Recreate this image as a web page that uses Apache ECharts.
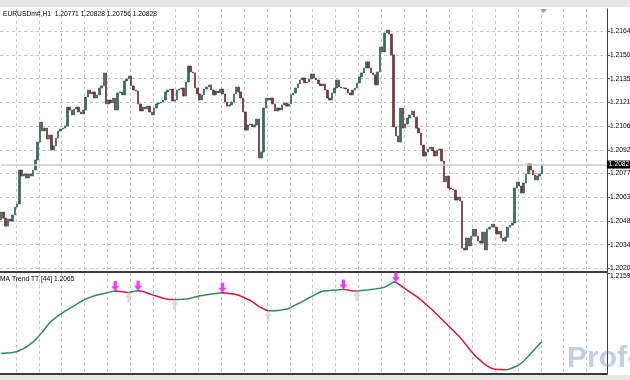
<!DOCTYPE html>
<html><head><meta charset="utf-8">
<script src="https://cdn.jsdelivr.net/npm/echarts@6/dist/echarts.min.js"></script>
<style>html,body{margin:0;padding:0;background:#fff;overflow:hidden}#c{width:630px;height:380px}</style>
</head><body><div id="c"></div><script>
// ---- data ----
const headerText = 'EURUSDm#,H1  1.20771 1.20828 1.20756 1.20828';
const indicatorTitle = 'MA Trend TT [44] 1.2065';
const lastPrice = 1.20828;
const lastPriceLabel = '1.2082';
const priceTickValues = [1.20196,1.20340,1.20485,1.20629,1.20774,1.20918,1.21062,1.21207,1.21351,1.21496,1.21640];
const priceTickLabels = ['1.2020','1.2034','1.2048','1.2063','1.2077','1.2092','1.2106','1.2121','1.2135','1.2150','1.2164'];
const priceMin = 1.20174, priceMax = 1.21775;
const subMin = 1.20242, subMax = 1.2159;
const subTickLabel = '1.2159';
const totalSlots = 266;

const opens = [
1.20490,1.20539,1.20502,1.20453,1.20496,1.20484,1.20521,1.20569,1.20588,1.20795,
1.20758,1.20771,1.20746,1.20771,1.20758,1.20795,1.20856,1.20965,1.21087,1.21032,
1.21050,1.20983,1.21008,1.20917,1.20941,1.20989,1.21032,1.21044,1.21050,1.21063,
1.21178,1.21160,1.21130,1.21166,1.21178,1.21148,1.21136,1.21160,1.21239,1.21282,
1.21258,1.21270,1.21233,1.21252,1.21294,1.21307,1.21386,1.21197,1.21221,1.21203,
1.21233,1.21160,1.21264,1.21270,1.21252,1.21337,1.21349,1.21367,1.21307,1.21282,
1.21276,1.21197,1.21154,1.21178,1.21166,1.21184,1.21148,1.21130,1.21172,1.21197,
1.21203,1.21209,1.21221,1.21270,1.21282,1.21288,1.21215,1.21221,1.21282,1.21288,
1.21294,1.21245,1.21331,1.21428,1.21392,1.21386,1.21294,1.21258,1.21221,1.21252,
1.21288,1.21300,1.21313,1.21282,1.21252,1.21276,1.21264,1.21288,1.21258,1.21209,
1.21184,1.21191,1.21209,1.21258,1.21300,1.21270,1.21233,1.21148,1.21038,1.21069,
1.21075,1.21057,1.21069,1.21105,1.20868,1.20904,1.21172,1.21233,1.21221,1.21233,
1.21197,1.21154,1.21172,1.21160,1.21191,1.21203,1.21184,1.21197,1.21252,1.21264,
1.21294,1.21319,1.21343,1.21355,1.21325,1.21331,1.21349,1.21380,1.21355,1.21343,
1.21319,1.21307,1.21319,1.21282,1.21233,1.21221,1.21264,1.21294,1.21343,1.21300,
1.21294,1.21294,1.21288,1.21264,1.21252,1.21282,1.21294,1.21325,1.21361,1.21386,
1.21416,1.21453,1.21416,1.21386,1.21374,1.21313,1.21392,1.21544,1.21514,1.21629,
1.21647,1.21623,1.21496,1.21057,1.21002,1.20965,1.21172,1.21050,1.21075,1.21111,
1.21130,1.21154,1.21117,1.21050,1.21020,1.20947,1.20880,1.20904,1.20922,1.20934,
1.20911,1.20880,1.20917,1.20922,1.20850,1.20722,1.20758,1.20685,1.20679,1.20673,
1.20612,1.20630,1.20606,1.20319,1.20308,1.20381,1.20332,1.20392,1.20435,1.20392,
1.20362,1.20350,1.20417,1.20308,1.20435,1.20447,1.20466,1.20447,1.20405,1.20423,
1.20381,1.20362,1.20386,1.20447,1.20459,1.20472,1.20685,1.20722,1.20697,1.20655,
1.20716,1.20771,1.20832,1.20795,1.20765,1.20734,1.20758,1.20771];
const closes = [
1.20539,1.20502,1.20453,1.20496,1.20484,1.20521,1.20569,1.20588,1.20795,1.20758,
1.20771,1.20746,1.20771,1.20758,1.20795,1.20856,1.20965,1.21087,1.21032,1.21050,
1.20983,1.21008,1.20917,1.20941,1.20989,1.21032,1.21044,1.21050,1.21063,1.21178,
1.21160,1.21130,1.21166,1.21178,1.21148,1.21136,1.21160,1.21239,1.21282,1.21258,
1.21270,1.21233,1.21252,1.21294,1.21307,1.21386,1.21197,1.21221,1.21203,1.21233,
1.21160,1.21264,1.21270,1.21252,1.21337,1.21349,1.21367,1.21307,1.21282,1.21276,
1.21197,1.21154,1.21178,1.21166,1.21184,1.21148,1.21130,1.21172,1.21197,1.21203,
1.21209,1.21221,1.21270,1.21282,1.21288,1.21215,1.21221,1.21282,1.21288,1.21294,
1.21245,1.21331,1.21428,1.21392,1.21386,1.21294,1.21258,1.21221,1.21252,1.21288,
1.21300,1.21313,1.21282,1.21252,1.21276,1.21264,1.21288,1.21258,1.21209,1.21184,
1.21191,1.21209,1.21258,1.21300,1.21270,1.21233,1.21148,1.21038,1.21069,1.21075,
1.21057,1.21069,1.21105,1.20868,1.20904,1.21172,1.21233,1.21221,1.21233,1.21197,
1.21154,1.21172,1.21160,1.21191,1.21203,1.21184,1.21197,1.21252,1.21264,1.21294,
1.21319,1.21343,1.21355,1.21325,1.21331,1.21349,1.21380,1.21355,1.21343,1.21319,
1.21307,1.21319,1.21282,1.21233,1.21221,1.21264,1.21294,1.21343,1.21300,1.21294,
1.21294,1.21288,1.21264,1.21252,1.21282,1.21294,1.21325,1.21361,1.21386,1.21416,
1.21453,1.21416,1.21386,1.21374,1.21313,1.21392,1.21544,1.21514,1.21629,1.21647,
1.21623,1.21496,1.21057,1.21002,1.20965,1.21172,1.21050,1.21075,1.21111,1.21130,
1.21154,1.21117,1.21050,1.21020,1.20947,1.20880,1.20904,1.20922,1.20934,1.20911,
1.20880,1.20917,1.20922,1.20850,1.20722,1.20758,1.20685,1.20679,1.20673,1.20612,
1.20630,1.20606,1.20319,1.20308,1.20381,1.20332,1.20392,1.20435,1.20392,1.20362,
1.20350,1.20417,1.20308,1.20435,1.20447,1.20466,1.20447,1.20405,1.20423,1.20381,
1.20362,1.20386,1.20447,1.20459,1.20472,1.20685,1.20722,1.20697,1.20655,1.20716,
1.20771,1.20832,1.20795,1.20765,1.20734,1.20758,1.20771,1.20828];
const lows = [
1.20478,1.20490,1.20435,1.20441,1.20466,1.20472,1.20508,1.20557,1.20576,1.20746,
1.20740,1.20740,1.20740,1.20746,1.20752,1.20655,1.20838,1.20953,1.21020,1.20977,
1.20971,1.20971,1.20887,1.20893,1.20874,1.20971,1.21020,1.21026,1.21032,1.21050,
1.21148,1.21117,1.21123,1.21154,1.21136,1.21075,1.21130,1.21148,1.21227,1.21245,
1.21239,1.21221,1.21221,1.21239,1.21282,1.21294,1.21130,1.21160,1.21191,1.21160,
1.21117,1.21148,1.21233,1.21233,1.21239,1.21300,1.21294,1.21294,1.21270,1.21233,
1.21184,1.21142,1.21148,1.21142,1.21148,1.21136,1.21117,1.21123,1.21160,1.21172,
1.21184,1.21197,1.21203,1.21252,1.21245,1.21203,1.21160,1.21209,1.21233,1.21221,
1.21215,1.21233,1.21319,1.21380,1.21343,1.21282,1.21203,1.21197,1.21209,1.21239,
1.21270,1.21282,1.21270,1.21239,1.21239,1.21252,1.21252,1.21245,1.21197,1.21172,
1.21172,1.21178,1.21197,1.21245,1.21252,1.21221,1.21136,1.21008,1.21026,1.20996,
1.21038,1.20959,1.21050,1.20807,1.20819,1.20893,1.21160,1.21203,1.21209,1.21184,
1.21117,1.21142,1.21148,1.21148,1.21178,1.21172,1.21178,1.21184,1.21239,1.21252,
1.21282,1.21307,1.21325,1.21313,1.21313,1.21319,1.21337,1.21331,1.21313,1.21307,
1.21294,1.21239,1.21270,1.21197,1.21203,1.21209,1.21252,1.21282,1.21288,1.21282,
1.21282,1.21276,1.21252,1.21239,1.21239,1.21239,1.21282,1.21313,1.21349,1.21374,
1.21404,1.21404,1.21374,1.21361,1.21300,1.21203,1.21380,1.21447,1.21502,1.21617,
1.21610,1.21483,1.21044,1.20977,1.20947,1.20953,1.21038,1.21032,1.21069,1.21099,
1.21117,1.21105,1.21038,1.21008,1.20934,1.20868,1.20856,1.20826,1.20904,1.20898,
1.20868,1.20868,1.20904,1.20838,1.20710,1.20710,1.20582,1.20655,1.20661,1.20600,
1.20582,1.20563,1.20302,1.20290,1.20265,1.20229,1.20313,1.20381,1.20381,1.20350,
1.20338,1.20338,1.20296,1.20296,1.20417,1.20429,1.20435,1.20392,1.20368,1.20368,
1.20350,1.20350,1.20374,1.20435,1.20350,1.20459,1.20673,1.20685,1.20612,1.20642,
1.20704,1.20758,1.20783,1.20752,1.20612,1.20704,1.20740,1.20756];
const highs = [
1.20557,1.20551,1.20515,1.20508,1.20521,1.20533,1.20582,1.20612,1.20807,1.20807,
1.20789,1.20783,1.20789,1.20807,1.20868,1.20868,1.20977,1.21160,1.21099,1.21063,
1.21063,1.21050,1.21020,1.20989,1.21002,1.21044,1.21063,1.21063,1.21081,1.21191,
1.21191,1.21172,1.21178,1.21215,1.21191,1.21160,1.21172,1.21252,1.21294,1.21294,
1.21288,1.21282,1.21270,1.21307,1.21331,1.21428,1.21392,1.21245,1.21239,1.21386,
1.21245,1.21276,1.21294,1.21386,1.21349,1.21367,1.21380,1.21380,1.21319,1.21307,
1.21288,1.21209,1.21191,1.21203,1.21197,1.21197,1.21172,1.21184,1.21209,1.21221,
1.21227,1.21233,1.21282,1.21294,1.21300,1.21300,1.21239,1.21355,1.21307,1.21307,
1.21307,1.21343,1.21496,1.21440,1.21416,1.21398,1.21307,1.21294,1.21264,1.21307,
1.21325,1.21361,1.21325,1.21294,1.21294,1.21294,1.21300,1.21300,1.21270,1.21221,
1.21209,1.21221,1.21270,1.21313,1.21313,1.21282,1.21245,1.21160,1.21117,1.21111,
1.21099,1.21087,1.21123,1.21123,1.20917,1.21184,1.21270,1.21245,1.21245,1.21245,
1.21209,1.21184,1.21184,1.21203,1.21215,1.21221,1.21215,1.21264,1.21282,1.21374,
1.21343,1.21361,1.21374,1.21367,1.21349,1.21367,1.21447,1.21392,1.21367,1.21355,
1.21331,1.21331,1.21331,1.21294,1.21245,1.21276,1.21307,1.21355,1.21355,1.21313,
1.21313,1.21307,1.21300,1.21276,1.21294,1.21307,1.21337,1.21374,1.21404,1.21428,
1.21465,1.21465,1.21428,1.21416,1.21386,1.21404,1.21556,1.21556,1.21641,1.21684,
1.21671,1.21635,1.21508,1.21081,1.21038,1.21221,1.21184,1.21099,1.21123,1.21142,
1.21166,1.21166,1.21130,1.21063,1.21032,1.20959,1.20917,1.20934,1.20947,1.20947,
1.20922,1.20928,1.20934,1.20934,1.20862,1.20813,1.20771,1.20697,1.20691,1.20685,
1.20642,1.20642,1.20618,1.20392,1.20398,1.20466,1.20405,1.20490,1.20447,1.20405,
1.20374,1.20429,1.20429,1.20447,1.20459,1.20478,1.20508,1.20459,1.20453,1.20441,
1.20435,1.20398,1.20459,1.20472,1.20484,1.20697,1.20734,1.20734,1.20710,1.20728,
1.20783,1.20887,1.20844,1.20807,1.20807,1.20783,1.20820,1.20828];
const maValues = [
1.20510,1.20512,1.20514,1.20517,1.20520,1.20524,1.20529,1.20538,1.20550,1.20565,
1.20580,1.20600,1.20620,1.20642,1.20664,1.20693,1.20725,1.20760,1.20795,1.20835,
1.20875,1.20912,1.20945,1.20970,1.20995,1.21018,1.21040,1.21060,1.21080,1.21096,
1.21115,1.21133,1.21150,1.21168,1.21188,1.21208,1.21226,1.21240,1.21252,1.21263,
1.21274,1.21284,1.21294,1.21302,1.21309,1.21316,1.21323,1.21330,1.21337,1.21343,
1.21347,1.21346,1.21343,1.21339,1.21335,1.21331,1.21330,1.21335,1.21341,1.21347,
1.21351,1.21350,1.21343,1.21333,1.21322,1.21311,1.21300,1.21290,1.21281,1.21272,
1.21262,1.21252,1.21244,1.21239,1.21236,1.21235,1.21235,1.21235,1.21236,1.21237,
1.21239,1.21241,1.21245,1.21252,1.21260,1.21268,1.21276,1.21284,1.21288,1.21293,
1.21298,1.21303,1.21308,1.21311,1.21315,1.21318,1.21321,1.21324,1.21322,1.21319,
1.21315,1.21311,1.21307,1.21302,1.21292,1.21280,1.21268,1.21253,1.21238,1.21225,
1.21205,1.21184,1.21162,1.21140,1.21124,1.21108,1.21094,1.21083,1.21082,1.21083,
1.21085,1.21088,1.21091,1.21095,1.21100,1.21106,1.21113,1.21128,1.21146,1.21163,
1.21178,1.21190,1.21207,1.21224,1.21241,1.21258,1.21273,1.21290,1.21306,1.21321,
1.21335,1.21347,1.21350,1.21352,1.21354,1.21357,1.21359,1.21361,1.21364,1.21367,
1.21370,1.21367,1.21362,1.21356,1.21351,1.21347,1.21348,1.21351,1.21355,1.21358,
1.21361,1.21364,1.21368,1.21373,1.21377,1.21382,1.21386,1.21391,1.21400,1.21415,
1.21432,1.21451,1.21470,1.21465,1.21445,1.21424,1.21402,1.21380,1.21358,1.21338,
1.21318,1.21297,1.21276,1.21253,1.21228,1.21202,1.21175,1.21148,1.21120,1.21094,
1.21064,1.21034,1.21003,1.20972,1.20942,1.20912,1.20882,1.20852,1.20822,1.20792,
1.20762,1.20731,1.20693,1.20655,1.20617,1.20578,1.20540,1.20505,1.20474,1.20445,
1.20418,1.20390,1.20363,1.20344,1.20326,1.20311,1.20303,1.20299,1.20296,1.20294,
1.20292,1.20293,1.20297,1.20305,1.20316,1.20329,1.20342,1.20360,1.20383,1.20410,
1.20440,1.20475,1.20507,1.20540,1.20573,1.20607,1.20640,1.20668];
const trendTurnBars = [50,56,60,76,97,117,150,156,173,221];
const sellArrowBars = [50,60,97,150,173];
const buyArrowBars = [56,76,117,156];

// ---- styles ----
const FONT = 'Liberation Sans';
const FS = 6.7;
const upCol = '#2e8b57', dnCol = '#dc143c';
const gridDash = {color:'#c4c4c4', type:[3,3], width:1};
const frameCol = '#3c3c3c';

const cats = Array.from({length: totalSlots}, (_, i) => String(i));
const wickData = lows.map((l, i) => [l, highs[i], l, highs[i]]);
const bodyData = opens.map((o, i) => [o, closes[i], Math.min(o, closes[i]), Math.max(o, closes[i])]);
const pieces = [];
let lo = null;
trendTurnBars.concat([totalSlots]).forEach((t, k) => {
  const p = {lte: t, color: k % 2 === 0 ? upCol : dnCol};
  if (lo !== null) p.gt = lo;
  pieces.push(p); lo = t;
});
const vSplit = (idx) => idx % 10 === 7;
const arrowPath = 'path://M3,0L7,0L7,5L10,5L5,10L0,5L3,5Z';

const chart = echarts.init(document.getElementById('c'), null, {renderer:'canvas'});
chart.setOption({
  animation: false,
  backgroundColor: '#ffffff',
  title: [
    {text: headerText, left: 3, top: 11, padding: 0, textStyle:{fontFamily:FONT, fontSize:FS, fontWeight:'normal', color:'#000'}},
    {text: indicatorTitle, left: 0, top: 276, padding: 0, textStyle:{fontFamily:FONT, fontSize:FS, fontWeight:'normal', color:'#000'}}
  ],
  grid: [
    {left: 0, right: 23, top: 9, bottom: 108, containLabel:false, outerBoundsMode:'none'},
    {left: 0, right: 23, top: 273, bottom: 6.5, containLabel:false, outerBoundsMode:'none'}
  ],
  xAxis: [
    {type:'category', gridIndex:0, data:cats, boundaryGap:true,
     axisLine:{show:true, lineStyle:{color:frameCol, width:2}}, axisTick:{show:false}, axisLabel:{show:false},
     splitLine:{show:true, interval:vSplit, lineStyle:gridDash}},
    {type:'category', gridIndex:1, data:cats, boundaryGap:true,
     axisLine:{show:true, lineStyle:{color:frameCol, width:2}}, axisTick:{show:false}, axisLabel:{show:false},
     splitLine:{show:true, interval:vSplit, lineStyle:gridDash}}
  ],
  yAxis: [
    {type:'value', gridIndex:0, position:'right', min:priceMin, max:priceMax,
     axisLine:{show:true, lineStyle:{color:frameCol, width:1}},
     axisTick:{show:true, length:3, lineStyle:{color:'#555'}, customValues: priceTickValues},
     axisLabel:{show:true, customValues: priceTickValues, margin:3, color:'#000', fontFamily:FONT, fontSize:FS,
       formatter:(v) => { const k = priceTickValues.findIndex(t => Math.abs(t - v) < 1e-7); return k >= 0 ? priceTickLabels[k] : ''; }},
     splitLine:{show:true, lineStyle:gridDash}},
    {type:'value', gridIndex:1, position:'right', min:subMin, max:subMax,
     axisLine:{show:true, lineStyle:{color:frameCol, width:1}},
     axisTick:{show:true, length:3, lineStyle:{color:'#555'}, customValues:[subMax]},
     axisLabel:{show:true, customValues:[subMax], margin:3, color:'#000', fontFamily:FONT, fontSize:FS, verticalAlign:'top',
       formatter:() => subTickLabel},
     splitLine:{show:false}}
  ],
  visualMap: {type:'piecewise', show:false, dimension:0, seriesIndex:2, pieces},
  series: [
    {name:'wick', type:'candlestick', xAxisIndex:0, yAxisIndex:0, data:wickData, barWidth:1,
     itemStyle:{color:'#8a8a8a', color0:'#8a8a8a', borderColor:'#8a8a8a', borderColor0:'#8a8a8a', borderWidth:0}},
    {name:'candles', type:'candlestick', xAxisIndex:0, yAxisIndex:0, data:bodyData, barWidth:2,
     itemStyle:{color:'#2a7566', color0:'#8e3232', borderColor:'#1d4f45', borderColor0:'#5e1f1f', borderWidth:0.6},
     markLine:{silent:true, symbol:'none', animation:false,
       lineStyle:{color:'#cacaca', type:'solid', width:1.5},
       label:{show:true, position:'end', distance:1, formatter:lastPriceLabel, color:'#fff', backgroundColor:'#000',
         padding:[1,3,0,2], fontFamily:FONT, fontSize:FS},
       data:[[{coord:['0', lastPrice]}, {coord:[String(totalSlots - 1), lastPrice]}]]}},
    {name:'MA Trend', type:'line', xAxisIndex:1, yAxisIndex:1, data:maValues, symbol:'none', lineStyle:{width:1.5}},
    {name:'sell', type:'scatter', xAxisIndex:1, yAxisIndex:1, data:sellArrowBars.map(j => [j, maValues[j]]),
     symbol:arrowPath, symbolSize:[8,10], symbolOffset:[0,-5], itemStyle:{color:'#ff00ff'}, z:5},
    {name:'buy', type:'scatter', xAxisIndex:1, yAxisIndex:1, data:buyArrowBars.map(j => [j, maValues[j]]),
     symbol:arrowPath, symbolSize:[8,10], symbolRotate:180, symbolOffset:[0,5], itemStyle:{color:'#d2d2d2'}, z:5}
  ],
  graphic: [
    {type:'rect', left:0, top:0, shape:{width:630, height:7}, style:{fill:'#e6e6e6'}, silent:true},
    {type:'rect', left:0, top:375, shape:{width:630, height:5}, style:{fill:'#e6e6e6'}, silent:true},
    {type:'polygon', shape:{points:[[540,9],[547,9],[543.5,13]]}, style:{fill:'#9a9a9a'}, silent:true},
    {type:'text', left:567, top:344, style:{text:'Prof-Forex', fill:'rgba(100,135,175,0.4)', font:'bold 30px "Liberation Sans"'}, silent:true, z:10}
  ]
});
</script></body></html>
